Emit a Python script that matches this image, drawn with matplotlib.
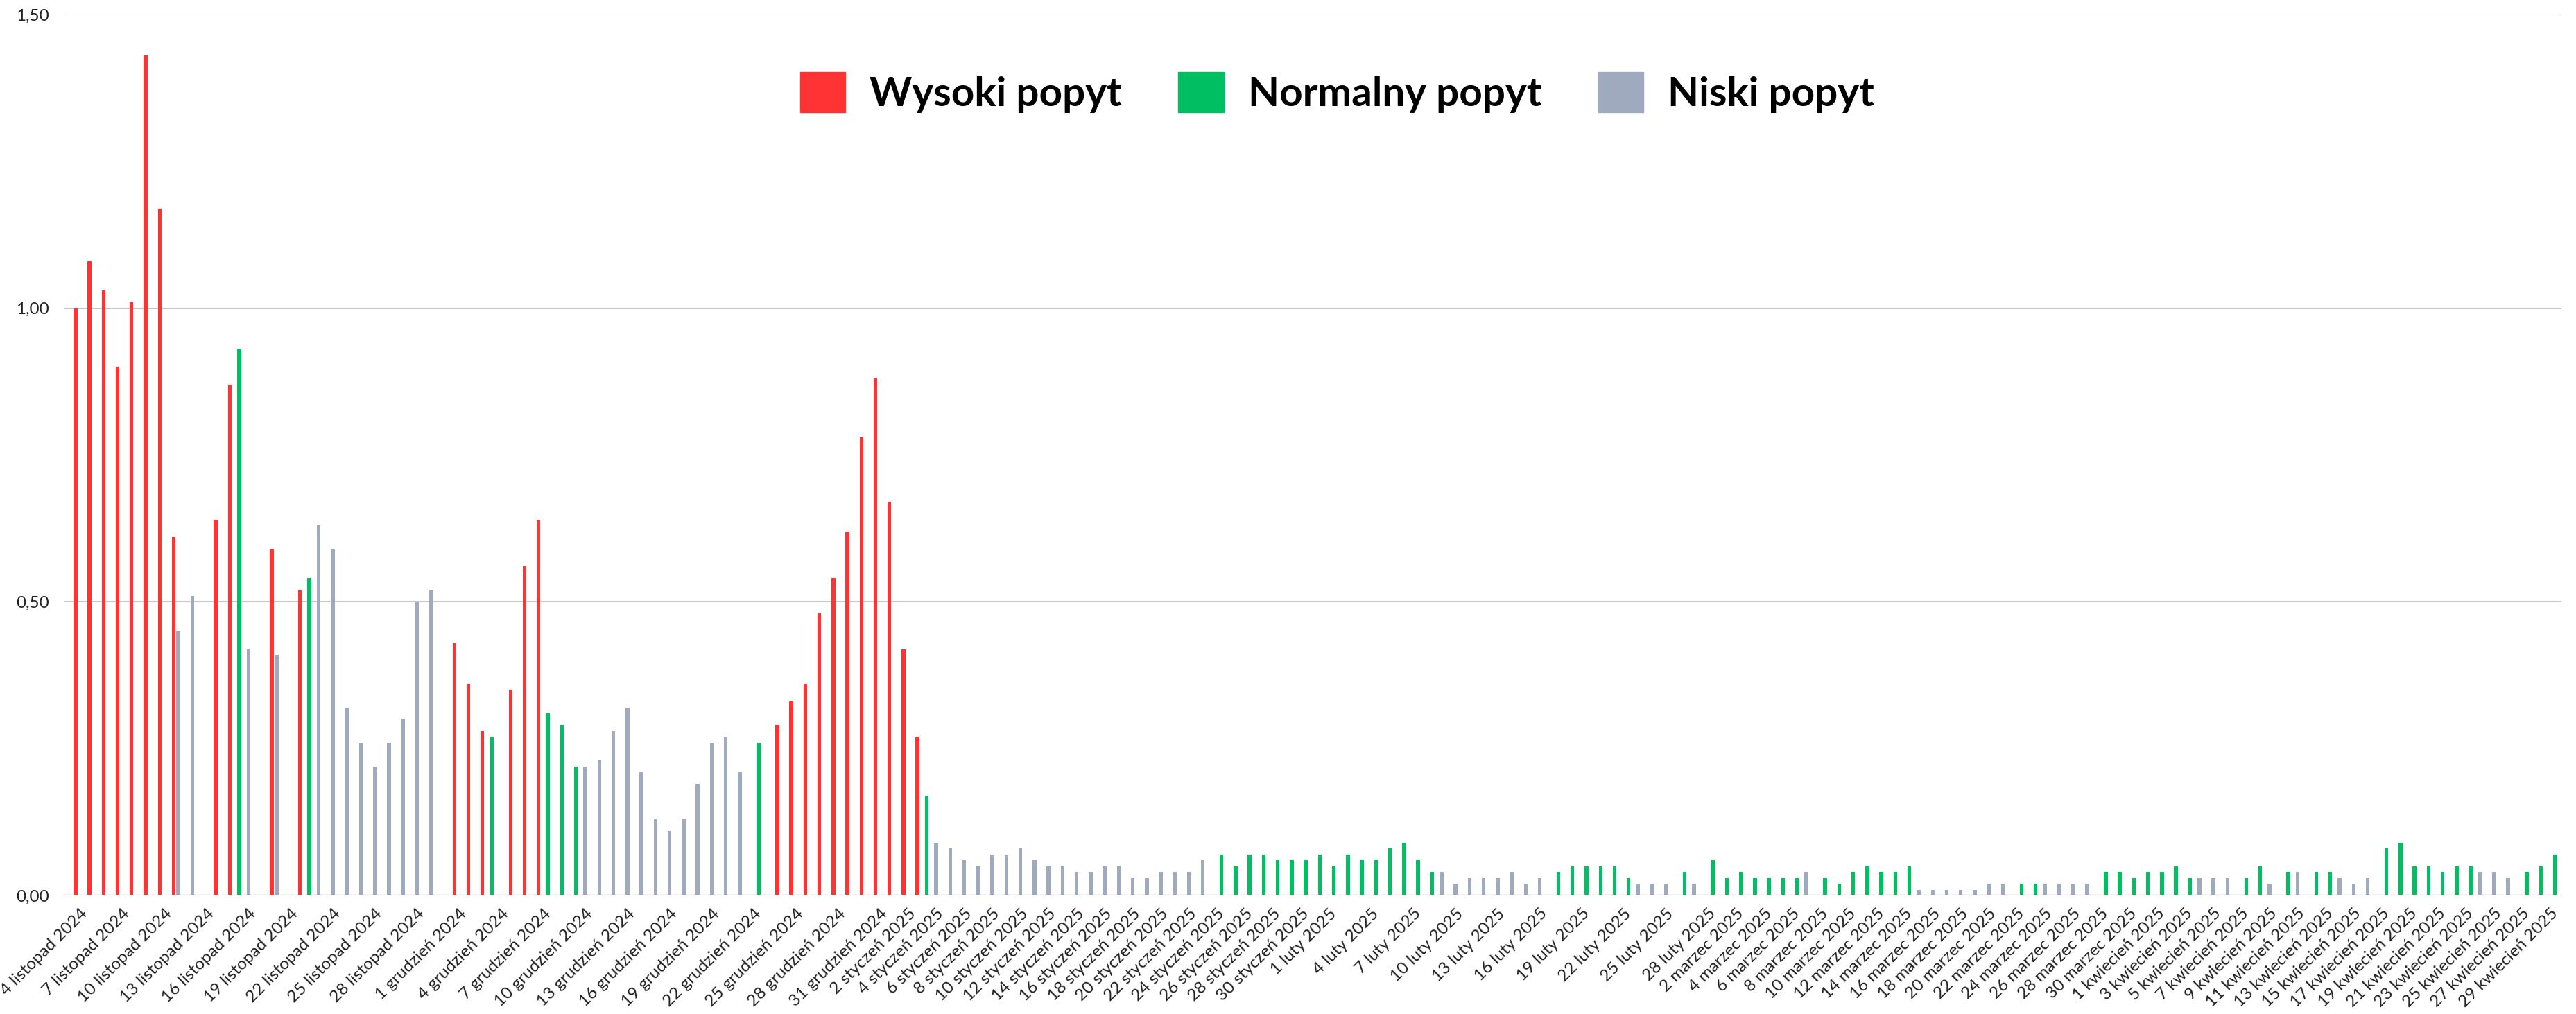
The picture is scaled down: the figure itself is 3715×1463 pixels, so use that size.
import numpy as np
import pandas as pd
import matplotlib
matplotlib.use("Agg")
import matplotlib.pyplot as plt
from matplotlib.patches import Patch

# one value per day, 4 listopad 2024 .. 29 kwiecień 2025 (0 = no bar)
start_day = "2024-11-04"
end_day = "2025-04-29"

# high demand only shows up until early January
wysoki = [
    # listopad (4-30)
    1.00, 1.08, 1.03, 0.90, 1.01, 1.43, 1.17, 0.61, 0, 0,
    0.64, 0.87, 0, 0, 0.59, 0, 0.52, 0, 0, 0,
    0, 0, 0, 0, 0, 0, 0,
    # grudzień
    0.43, 0.36, 0.28, 0, 0.35, 0.56, 0.64, 0, 0, 0,
    0, 0, 0, 0, 0, 0, 0, 0, 0, 0,
    0, 0, 0, 0.29, 0.33, 0.36, 0.48, 0.54, 0.62, 0.78,
    0.88,
    # styczeń
    0.67, 0.42, 0.27,
]
normalny = [
    # listopad
    0, 0, 0, 0, 0, 0, 0, 0, 0, 0,
    0, 0.93, 0, 0, 0, 0, 0.54, 0, 0, 0,
    0, 0, 0, 0, 0, 0, 0,
    # grudzień
    0, 0, 0.27, 0, 0, 0, 0.31, 0.29, 0.22, 0,
    0, 0, 0, 0, 0, 0, 0, 0, 0, 0,
    0, 0.26, 0, 0, 0, 0, 0, 0, 0, 0,
    0,
    # styczeń
    0, 0, 0.17, 0, 0, 0, 0, 0, 0, 0,
    0, 0, 0, 0, 0, 0, 0, 0, 0, 0,
    0, 0, 0, 0.07, 0.05, 0.07, 0.07, 0.06, 0.06, 0.06,
    0.07,
    # luty
    0.05, 0.07, 0.06, 0.06, 0.08, 0.09, 0.06, 0.04, 0, 0,
    0, 0, 0, 0, 0, 0, 0.04, 0.05, 0.05, 0.05,
    0.05, 0.03, 0, 0, 0, 0.04, 0, 0.06,
    # marzec
    0.03, 0.04, 0.03, 0.03, 0.03, 0.03, 0, 0.03, 0.02, 0.04,
    0.05, 0.04, 0.04, 0.05, 0, 0, 0, 0, 0, 0,
    0, 0.02, 0.02, 0, 0, 0, 0, 0.04, 0.04, 0.03,
    0.04,
    # kwiecień
    0.04, 0.05, 0.03, 0, 0, 0, 0.03, 0.05, 0, 0.04,
    0, 0.04, 0.04, 0, 0, 0, 0.08, 0.09, 0.05, 0.05,
    0.04, 0.05, 0.05, 0, 0, 0, 0.04, 0.05, 0.07,
]
niski = [
    # listopad
    0, 0, 0, 0, 0, 0, 0, 0.45, 0.51, 0,
    0, 0, 0.42, 0, 0.41, 0, 0, 0.63, 0.59, 0.32,
    0.26, 0.22, 0.26, 0.30, 0.50, 0.52, 0,
    # grudzień
    0, 0, 0, 0, 0, 0, 0, 0, 0, 0.22,
    0.23, 0.28, 0.32, 0.21, 0.13, 0.11, 0.13, 0.19, 0.26, 0.27,
    0.21, 0, 0, 0, 0, 0, 0, 0, 0, 0,
    0,
    # styczeń
    0, 0, 0, 0.09, 0.08, 0.06, 0.05, 0.07, 0.07, 0.08,
    0.06, 0.05, 0.05, 0.04, 0.04, 0.05, 0.05, 0.03, 0.03, 0.04,
    0.04, 0.04, 0.06, 0, 0, 0, 0, 0, 0, 0,
    0,
    # luty
    0, 0, 0, 0, 0, 0, 0, 0, 0.04, 0.02,
    0.03, 0.03, 0.03, 0.04, 0.02, 0.03, 0, 0, 0, 0,
    0, 0, 0.02, 0.02, 0.02, 0, 0.02, 0,
    # marzec
    0, 0, 0, 0, 0, 0, 0.04, 0, 0, 0,
    0, 0, 0, 0, 0.01, 0.01, 0.01, 0.01, 0.01, 0.02,
    0.02, 0, 0, 0.02, 0.02, 0.02, 0.02, 0, 0, 0,
    0,
    # kwiecień
    0, 0, 0, 0.03, 0.03, 0.03, 0, 0, 0.02, 0,
    0.04, 0, 0, 0.03, 0.02, 0.03, 0, 0, 0, 0,
    0, 0, 0, 0.04, 0.04, 0.03, 0, 0, 0,
]

# tick labels shown on the x axis
tick_days = {
    ("listopad", 2024): [4, 7, 10, 13, 16, 19, 22, 25, 28],
    ("grudzień", 2024): [1, 4, 7, 10, 13, 16, 19, 22, 25, 28, 31],
    ("styczeń", 2025): [2, 4, 6, 8, 10, 12, 14, 16, 18, 20, 22, 24, 26, 28, 30],
    ("luty", 2025): [1, 4, 7, 10, 13, 16, 19, 22, 25, 28],
    ("marzec", 2025): [2, 4, 6, 8, 10, 12, 14, 16, 18, 20, 22, 24, 26, 28, 30],
    ("kwiecień", 2025): [1, 3, 5, 7, 9, 11, 13, 15, 17, 19, 21, 23, 25, 27, 29],
}
month_num = {"listopad": 11, "grudzień": 12, "styczeń": 1,
             "luty": 2, "marzec": 3, "kwiecień": 4}

y_ticks = [0.0, 0.5, 1.0, 1.5]
series_names = ["Wysoki popyt", "Normalny popyt", "Niski popyt"]

RED = "#ff3333"
GREEN = "#00bf63"
GREY = "#a0aabf"

days = pd.date_range(start_day, end_day, freq="D")
x = np.arange(len(days))

tick_pos = []
tick_lab = []
for (mname, year), dlist in tick_days.items():
    for d in dlist:
        dt = pd.Timestamp(year=year, month=month_num[mname], day=d)
        tick_pos.append(days.get_loc(dt))
        tick_lab.append(f"{d} {mname} {year}")

plt.rcParams["font.family"] = ["Lato", "DejaVu Sans"]

fig = plt.figure(figsize=(37.15, 14.63), dpi=100)
ax = fig.add_axes([0.02511, 0.11688, 0.96924, 0.86877])

# three bars per day: red left, grey middle, green right
w = 0.27
ax.bar(x[:len(wysoki)] - 1/3, wysoki, width=w, color=RED, zorder=2)
ax.bar(x, niski, width=w, color=GREY, zorder=2)
ax.bar(x + 1/3, normalny, width=w, color=GREEN, zorder=2)

ax.set_xlim(-1.1, 176.8)
ax.set_ylim(0, 1.5)

for yv in y_ticks[1:]:
    ax.axhline(yv, color="#c8c8c8", lw=1.5, zorder=1)
ax.axhline(0, color="#808080", lw=2.3, zorder=3)

for s in ax.spines.values():
    s.set_visible(False)

ax.set_yticks(y_ticks)
ax.set_yticklabels([f"{v:.2f}".replace(".", ",") for v in y_ticks])
ax.tick_params(axis="y", length=0, pad=16, labelsize=17.5, labelcolor="#222222")

ax.set_xticks(tick_pos)
ax.set_xticklabels(tick_lab, rotation=45, ha="right", rotation_mode="anchor")
ax.tick_params(axis="x", length=0, pad=11, labelsize=17.5, labelcolor="#222222")

handles = [Patch(color=RED), Patch(color=GREEN), Patch(color=GREY)]
fig.legend(handles, series_names, loc="center", bbox_to_anchor=(0.519, 0.909),
           ncol=3, frameon=False,
           prop={"family": "Lato", "weight": "bold", "size": 42},
           handlelength=1.12, handleheight=1.17, handletextpad=0.6,
           columnspacing=1.4)

fig.savefig("out.png", dpi=100)
